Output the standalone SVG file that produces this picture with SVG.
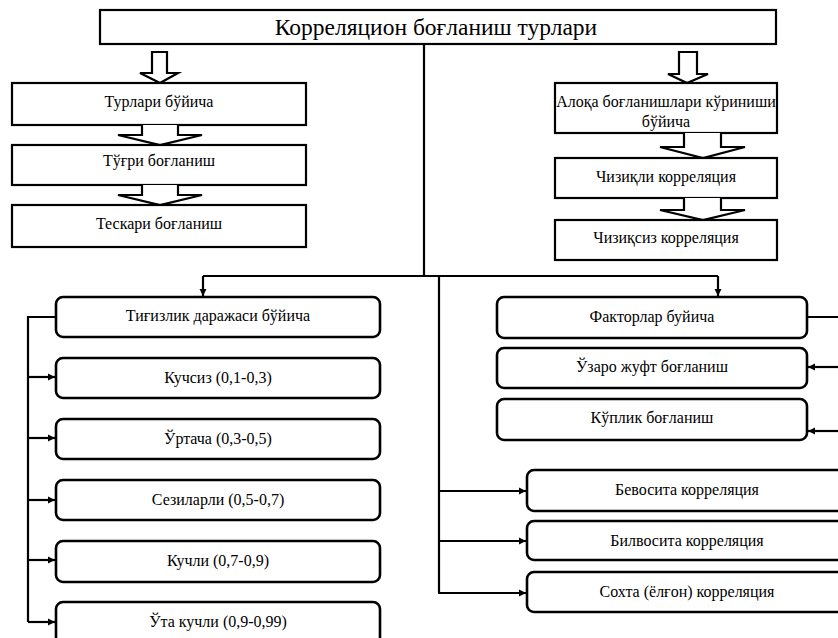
<svg xmlns="http://www.w3.org/2000/svg" width="838" height="638" viewBox="0 0 838 638" style="font-family:'Liberation Serif','Times New Roman',Tinos,'DejaVu Serif','Noto Serif',serif">
<defs>
<style>
.box{fill:#fff;stroke:#000;stroke-width:2.2}
.rbox{fill:#fff;stroke:#000;stroke-width:2.6}
.blk{fill:#fff;stroke:#000;stroke-width:2.2;stroke-linejoin:miter}
.t{font-size:16px;fill:#000;text-anchor:middle}
.title{font-size:23.5px;fill:#000;text-anchor:middle}
.ln{fill:none;stroke:#000;stroke-width:2.2}
.ar{fill:none;stroke:#000;stroke-width:2.2;marker-end:url(#ah)}
</style>
<marker id="ah" viewBox="0 0 10 10" refX="10" refY="5" markerWidth="3.4" markerHeight="3.4" markerUnits="strokeWidth" orient="auto">
<path d="M0,0 L10,5 L0,10 z" fill="#000"/>
</marker>
</defs>
<rect width="838" height="638" fill="#fff"/>

<g id="connectors">
<path class="ln" d="M424,44 V276 M203,276 H718 M439,276 V593"/>
<path class="ar" d="M203,276 V296"/>
<path class="ar" d="M718,276 V296"/>
<path class="ar" d="M438,491 H526"/>
<path class="ar" d="M438,541 H526"/>
<path class="ar" d="M438,593 H526"/>
<path class="ln" d="M56,317 H28 V622"/>
<path class="ar" d="M28,377 H55"/>
<path class="ar" d="M28,438 H55"/>
<path class="ar" d="M28,500 H55"/>
<path class="ar" d="M28,560 H55"/>
<path class="ar" d="M28,622 H55"/>
<path class="ln" d="M807,317 H840"/>
<path class="ar" d="M840,367 H808"/>
<path class="ar" d="M840,431 H808"/>
<path class="blk" d="M152,52 H167 V73 H178 L160,83 L140,73 H152 Z"/>
<path class="blk" d="M679,52 H697 V74 H708 L687,83 L668,74 H679 Z"/>
</g>

<g id="title">
<rect class="box" x="100" y="10" width="676" height="34"/>
<text class="title" x="436" y="35">Корреляцион боғланиш турлари</text>
</g>

<g id="turlari">
<rect class="box" x="12" y="83" width="294" height="42"/>
<text class="t" x="159" y="107">Турлари бўйича</text>
</g>
<g id="arrow-l1"><path class="blk" d="M142,125 V135 H118 L160,145 L202,135 H178 V125"/></g>
<g id="togri">
<rect class="box" x="12" y="145" width="294" height="40"/>
<text class="t" x="159" y="166">Тўғри боғланиш</text>
</g>
<g id="arrow-l2"><path class="blk" d="M142,185 V195 H118 L160,205 L202,195 H178 V185"/></g>
<g id="teskari">
<rect class="box" x="12" y="205" width="294" height="42"/>
<text class="t" x="159" y="229">Тескари боғланиш</text>
</g>

<g id="aloqa">
<rect class="box" x="555" y="83" width="222" height="50"/>
<text class="t" x="666" y="107">Алоқа боғланишлари кўриниши</text>
<text class="t" x="666" y="127">бўйича</text>
</g>
<g id="arrow-r1"><path class="blk" d="M684,133 V147 H660 L703,158 L745,147 H721 V133"/></g>
<g id="chiziqli">
<rect class="box" x="555" y="158" width="222" height="40"/>
<text class="t" x="666" y="182">Чизиқли корреляция</text>
</g>
<g id="arrow-r2"><path class="blk" d="M684,198 V210 H660 L703,220 L745,210 H721 V198"/></g>
<g id="chiziqsiz">
<rect class="box" x="555" y="220" width="222" height="40"/>
<text class="t" x="666" y="243">Чизиқсиз корреляция</text>
</g>

<g id="tigizlik">
<rect class="rbox" x="56" y="297" width="324" height="40" rx="7"/>
<text class="t" x="218" y="321">Тиғизлик даражаси бўйича</text>
</g>
<g id="kuchsiz">
<rect class="rbox" x="56" y="358" width="324" height="40" rx="7"/>
<text class="t" x="218" y="383">Кучсиз (0,1-0,3)</text>
</g>
<g id="ortacha">
<rect class="rbox" x="56" y="419" width="324" height="40" rx="7"/>
<text class="t" x="218" y="444">Ўртача (0,3-0,5)</text>
</g>
<g id="sezilarli">
<rect class="rbox" x="56" y="480" width="324" height="40" rx="7"/>
<text class="t" x="218" y="505">Сезиларли (0,5-0,7)</text>
</g>
<g id="kuchli">
<rect class="rbox" x="56" y="541" width="324" height="41" rx="7"/>
<text class="t" x="218" y="566">Кучли (0,7-0,9)</text>
</g>
<g id="otakuchli">
<rect class="rbox" x="56" y="602" width="324" height="42" rx="7"/>
<text class="t" x="218" y="627">Ўта кучли (0,9-0,99)</text>
</g>

<g id="faktorlar">
<rect class="rbox" x="497" y="297" width="310" height="41" rx="7"/>
<text class="t" x="652" y="322">Факторлар буйича</text>
</g>
<g id="ozaro">
<rect class="rbox" x="497" y="348" width="310" height="40" rx="7"/>
<text class="t" x="652" y="372">Ўзаро жуфт боғланиш</text>
</g>
<g id="koplik">
<rect class="rbox" x="497" y="399" width="310" height="41" rx="7"/>
<text class="t" x="652" y="423">Кўплик боғланиш</text>
</g>

<g id="bevosita">
<rect class="rbox" x="527" y="470" width="324" height="41" rx="7"/>
<text class="t" x="687" y="495">Бевосита корреляция</text>
</g>
<g id="bilvosita">
<rect class="rbox" x="527" y="521" width="324" height="39" rx="7"/>
<text class="t" x="687" y="546">Билвосита корреляция</text>
</g>
<g id="sokhta">
<rect class="rbox" x="527" y="572" width="324" height="40" rx="7"/>
<text class="t" x="687" y="597">Сохта (ёлғон) корреляция</text>
</g>
</svg>
